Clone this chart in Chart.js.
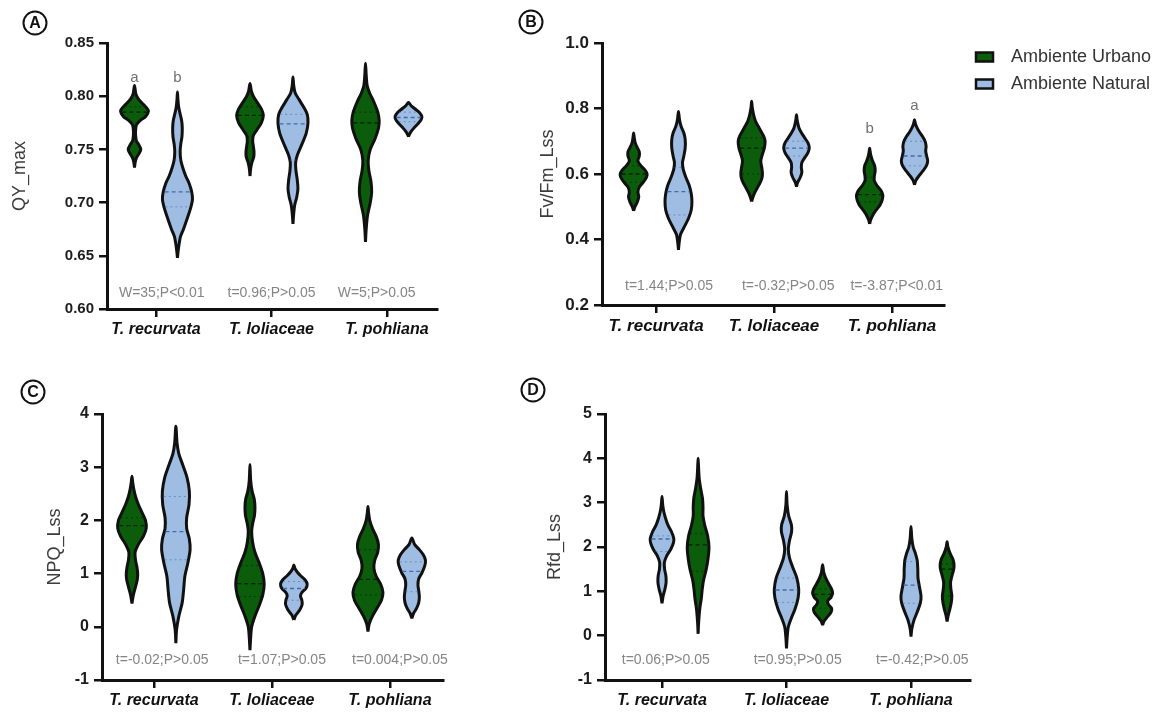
<!DOCTYPE html>
<html>
<head>
<meta charset="utf-8">
<script src="https://cdn.jsdelivr.net/npm/chart.js@4.4.1/dist/chart.umd.min.js"></script>
<style>
  body { margin: 0; background: #fff; width: 1160px; height: 713px; position: relative; overflow: hidden; }
  canvas { position: absolute; }
</style>
</head>
<body>
<canvas id="cA" width="490" height="345" style="left:0;top:0"></canvas>
<canvas id="cB" width="670" height="345" style="left:490px;top:0"></canvas>
<canvas id="cC" width="490" height="368" style="left:0;top:345px"></canvas>
<canvas id="cD" width="670" height="368" style="left:490px;top:345px"></canvas>
<script>
// categories / groups
const species = ['T. recurvata', 'T. loliaceae', 'T. pohliana'];
const groups = ['Ambiente Urbano', 'Ambiente Natural'];

// violin outlines: [value, relative half-width], bottom tip -> top tip
// A) QY_max
const qyUrb = [
  [[0.733,0],[0.738,0.05],[0.742,0.14],[0.746,0.32],[0.750,0.45],[0.754,0.32],[0.758,0.14],[0.763,0.08],[0.768,0.08],[0.773,0.14],[0.777,0.4],[0.781,0.8],[0.786,1],[0.790,0.8],[0.794,0.5],[0.798,0.25],[0.802,0.1],[0.806,0.05],[0.810,0]],
  [[0.725,0],[0.732,0.05],[0.738,0.15],[0.743,0.28],[0.748,0.3],[0.753,0.25],[0.758,0.2],[0.763,0.25],[0.768,0.5],[0.775,0.85],[0.782,1],[0.788,0.85],[0.794,0.55],[0.800,0.25],[0.805,0.1],[0.812,0]],
  [[0.663,0],[0.675,0.05],[0.688,0.15],[0.700,0.35],[0.710,0.45],[0.720,0.4],[0.730,0.25],[0.740,0.2],[0.750,0.35],[0.760,0.7],[0.770,0.95],[0.777,1],[0.785,0.9],[0.795,0.6],[0.803,0.3],[0.810,0.12],[0.820,0.05],[0.831,0]]
];
const qyNat = [
  [[0.648,0],[0.655,0.05],[0.662,0.12],[0.668,0.2],[0.675,0.4],[0.685,0.65],[0.695,0.88],[0.703,1],[0.710,0.95],[0.718,0.78],[0.725,0.55],[0.733,0.35],[0.740,0.22],[0.748,0.18],[0.755,0.22],[0.762,0.3],[0.770,0.32],[0.777,0.28],[0.785,0.15],[0.790,0.08],[0.797,0.03],[0.804,0]],
  [[0.680,0],[0.690,0.05],[0.698,0.12],[0.705,0.25],[0.713,0.33],[0.722,0.28],[0.730,0.2],[0.738,0.18],[0.745,0.3],[0.755,0.6],[0.765,0.88],[0.775,1],[0.783,0.95],[0.790,0.7],[0.797,0.4],[0.803,0.15],[0.810,0.05],[0.818,0]],
  [[0.762,0],[0.766,0.15],[0.770,0.4],[0.774,0.7],[0.778,0.95],[0.781,1],[0.785,0.8],[0.788,0.5],[0.791,0.2],[0.794,0]]
];
const qyUrbPeak = [0.93, 0.89, 0.91];
const qyNatPeak = [1, 1, 0.89];
const qyUrbMed = [0.785, 0.782, 0.775];
const qyNatMed = [0.710, 0.774, 0.780];
const qyUrbQ = [[0.772, 0.790], [0.762, 0.790], [0.735, 0.785]];
const qyNatQ = [[0.696, 0.740], [0.740, 0.783], [0.776, 0.785]];
const qyTicks = [0.60, 0.65, 0.70, 0.75, 0.80, 0.85];
const qyStats = ['W=35;P<0.01', 't=0.96;P>0.05', 'W=5;P>0.05'];
const qyLetters = [['a', 0, 'urb', 0.817], ['b', 0, 'nat', 0.817]];

// B) Fv/Fm_Lss
const fvUrb = [
  [[0.488,0],[0.500,0.1],[0.515,0.28],[0.530,0.38],[0.545,0.32],[0.560,0.42],[0.575,0.72],[0.590,0.95],[0.600,1],[0.612,0.85],[0.625,0.55],[0.640,0.32],[0.655,0.42],[0.668,0.42],[0.680,0.28],[0.695,0.12],[0.710,0.05],[0.725,0]],
  [[0.516,0],[0.530,0.1],[0.545,0.25],[0.560,0.45],[0.575,0.65],[0.590,0.78],[0.605,0.8],[0.620,0.75],[0.640,0.68],[0.660,0.8],[0.680,0.95],[0.700,1],[0.715,0.9],[0.730,0.7],[0.745,0.5],[0.760,0.3],[0.775,0.18],[0.790,0.1],[0.805,0.04],[0.822,0]],
  [[0.448,0],[0.460,0.08],[0.475,0.25],[0.490,0.5],[0.505,0.78],[0.520,0.95],[0.535,1],[0.550,0.85],[0.565,0.55],[0.580,0.35],[0.595,0.36],[0.610,0.42],[0.625,0.38],[0.640,0.22],[0.655,0.1],[0.668,0.04],[0.679,0]]
];
const fvNat = [
  [[0.368,0],[0.390,0.05],[0.415,0.15],[0.440,0.45],[0.465,0.75],[0.490,0.95],[0.515,1],[0.540,0.95],[0.565,0.8],[0.590,0.55],[0.615,0.35],[0.635,0.3],[0.655,0.4],[0.680,0.5],[0.705,0.5],[0.725,0.4],[0.745,0.2],[0.765,0.08],[0.791,0]],
  [[0.562,0],[0.575,0.1],[0.590,0.3],[0.605,0.42],[0.620,0.38],[0.635,0.42],[0.650,0.65],[0.665,0.9],[0.680,1],[0.695,0.9],[0.710,0.65],[0.725,0.4],[0.740,0.2],[0.755,0.1],[0.768,0.04],[0.781,0]],
  [[0.567,0],[0.580,0.1],[0.595,0.35],[0.610,0.65],[0.625,0.9],[0.640,1],[0.655,0.92],[0.670,0.85],[0.685,0.88],[0.700,0.8],[0.715,0.6],[0.730,0.35],[0.745,0.15],[0.755,0.06],[0.766,0]]
];
const fvUrbPeak = [1, 1, 0.98];
const fvNatPeak = [1, 0.95, 0.98];
const fvUrbMed = [0.600, 0.679, 0.537];
const fvNatMed = [0.546, 0.679, 0.655];
const fvUrbQ = [[0.575, 0.625], [0.600, 0.710], [0.515, 0.590]];
const fvNatQ = [[0.475, 0.620], [0.655, 0.700], [0.625, 0.700]];
const fvTicks = [0.2, 0.4, 0.6, 0.8, 1.0];
const fvStats = ['t=1.44;P>0.05', 't=-0.32;P>0.05', 't=-3.87;P<0.01'];
const fvLetters = [['b', 2, 'urb', 0.737], ['a', 2, 'nat', 0.808]];

// C) NPQ_Lss
const npqUrb = [
  [[0.44,0],[0.6,0.1],[0.75,0.25],[0.9,0.38],[1.0,0.4],[1.12,0.35],[1.25,0.25],[1.4,0.22],[1.55,0.45],[1.7,0.8],[1.85,1],[2.0,0.95],[2.15,0.7],[2.3,0.45],[2.45,0.25],[2.6,0.12],[2.72,0.05],[2.83,0]],
  [[-0.44,0],[-0.2,0.05],[0,0.12],[0.2,0.35],[0.4,0.65],[0.6,0.9],[0.8,1],[1.0,0.9],[1.2,0.65],[1.4,0.35],[1.6,0.18],[1.8,0.12],[1.95,0.2],[2.1,0.32],[2.25,0.35],[2.4,0.3],[2.55,0.15],[2.75,0.05],[3.05,0]],
  [[-0.09,0],[0.05,0.08],[0.2,0.3],[0.35,0.6],[0.5,0.9],[0.65,1],[0.8,0.85],[0.95,0.55],[1.1,0.4],[1.25,0.45],[1.4,0.65],[1.55,0.7],[1.7,0.55],[1.85,0.3],[2.0,0.12],[2.15,0.04],[2.26,0]]
];
const npqNat = [
  [[-0.31,0],[-0.05,0.05],[0.2,0.2],[0.45,0.42],[0.7,0.52],[0.95,0.6],[1.2,0.8],[1.45,0.95],[1.65,0.9],[1.85,0.72],[2.05,0.72],[2.3,0.88],[2.55,0.9],[2.8,0.75],[3.05,0.45],[3.25,0.2],[3.45,0.08],[3.77,0]],
  [[0.13,0],[0.22,0.15],[0.32,0.45],[0.42,0.62],[0.5,0.6],[0.58,0.5],[0.65,0.62],[0.72,0.9],[0.8,1],[0.88,0.85],[0.95,0.55],[1.03,0.25],[1.1,0.08],[1.16,0]],
  [[0.16,0],[0.25,0.12],[0.35,0.35],[0.45,0.5],[0.55,0.55],[0.65,0.52],[0.78,0.45],[0.9,0.5],[1.02,0.75],[1.15,0.95],[1.25,1],[1.35,0.85],[1.45,0.55],[1.55,0.2],[1.67,0]]
];
const npqUrbPeak = [0.95, 0.95, 1];
const npqNatPeak = [1, 0.89, 0.91];
const npqUrbMed = [1.9, 0.81, 0.89];
const npqNatMed = [1.79, 0.72, 1.04];
const npqUrbQ = [[1.45, 2.05], [0.57, 1.15], [0.60, 1.45]];
const npqNatQ = [[1.26, 2.45], [0.50, 0.85], [0.66, 1.22]];
const npqTicks = [-1, 0, 1, 2, 3, 4];
const npqStats = ['t=-0.02;P>0.05', 't=1.07;P>0.05', 't=0.004;P>0.05'];

// D) Rfd_Lss
const rfdUrb = [
  [[0.04,0],[0.3,0.05],[0.6,0.15],[0.85,0.3],[1.05,0.38],[1.25,0.5],[1.5,0.75],[1.75,0.92],[2.0,1],[2.25,0.88],[2.5,0.6],[2.7,0.45],[2.9,0.45],[3.1,0.4],[3.3,0.25],[3.55,0.1],[3.8,0.04],[4.0,0]],
  [[0.24,0],[0.33,0.15],[0.43,0.5],[0.53,0.85],[0.62,0.9],[0.70,0.6],[0.78,0.5],[0.87,0.85],[0.96,1],[1.05,0.9],[1.15,0.65],[1.28,0.35],[1.42,0.12],[1.6,0]],
  [[0.32,0],[0.45,0.15],[0.6,0.4],[0.75,0.6],[0.9,0.68],[1.05,0.55],[1.2,0.5],[1.35,0.7],[1.5,0.95],[1.6,1],[1.72,0.85],[1.85,0.45],[2.0,0.12],[2.12,0]]
];
const rfdNat = [
  [[0.73,0],[0.9,0.1],[1.05,0.25],[1.2,0.35],[1.35,0.33],[1.5,0.22],[1.65,0.2],[1.8,0.4],[1.95,0.75],[2.1,0.98],[2.2,1],[2.35,0.8],[2.5,0.5],[2.65,0.3],[2.8,0.15],[2.95,0.06],[3.14,0]],
  [[-0.29,0],[-0.05,0.05],[0.2,0.15],[0.4,0.4],[0.6,0.7],[0.85,0.95],[1.05,1],[1.3,0.85],[1.55,0.5],[1.75,0.25],[1.95,0.15],[2.15,0.25],[2.35,0.42],[2.5,0.4],[2.7,0.18],[2.95,0.05],[3.25,0]],
  [[-0.02,0],[0.15,0.08],[0.35,0.3],[0.55,0.65],[0.75,0.95],[0.9,1],[1.1,0.85],[1.3,0.7],[1.5,0.68],[1.7,0.62],[1.85,0.45],[2.0,0.22],[2.2,0.08],[2.46,0]]
];
const rfdUrbPeak = [0.89, 0.82, 0.57];
const rfdNatPeak = [0.96, 1, 0.82];
const rfdUrbMed = [2.05, 0.93, 1.5];
const rfdNatMed = [2.18, 1.03, 1.14];
const rfdUrbQ = [[1.45, 2.3], [0.62, 1.05], [0.9, 1.62]];
const rfdNatQ = [[1.9, 2.25], [0.75, 1.3], [0.73, 1.67]];
const rfdTicks = [-1, 0, 1, 2, 3, 4, 5];
const rfdStats = ['t=0.06;P>0.05', 't=0.95;P>0.05', 't=-0.42;P>0.05'];

const GREEN = '#0b5d0b';
const BLUE = '#9fbde3';
const INK = '#111111';
const FONT = '"Liberation Sans", Arial, Helvetica, sans-serif';
Chart.defaults.font.family = FONT;

// linear interpolation of the outline width at a value (for the median / quartile dashes)
function widthAt(prof, v) {
  for (let i = 1; i < prof.length; i++) {
    const [v0, w0] = prof[i - 1], [v1, w1] = prof[i];
    if (v >= v0 && v <= v1) return w0 + (w1 - w0) * (v - v0) / (v1 - v0);
  }
  return 0;
}

// closed outline: right side going up, left side coming back down
function outline(c, prof, half) {
  const right = prof.map(([v, w]) => ({x: c + w * half, y: v}));
  const left = prof.slice(0, -1).reverse().map(([v, w]) => ({x: c - w * half, y: v}));
  return right.concat(left);
}

function hline(c, prof, half, v) {
  const w = widthAt(prof, v) * half * 0.9;
  return [{x: c - w, y: v}, {x: c + w, y: v}];
}

function makeNotes(p) {
  return {
    id: 'notes',
    afterDraw(chart) {
      const {ctx, scales: {x, y}} = chart;
      ctx.save();
      ctx.textAlign = 'center';
      ctx.textBaseline = 'middle';
      ctx.fillStyle = '#858585';
      ctx.font = '14px ' + FONT;
      p.stats.forEach((s, i) => ctx.fillText(s, x.getPixelForValue(i + p.statShift[i]), y.getPixelForValue(p.statY)));
      ctx.fillStyle = '#707070';
      ctx.font = '15px ' + FONT;
      (p.letters || []).forEach(([t, i, g, v]) => {
        const sh = g === 'urb' ? p.urbShift : p.natShift;
        ctx.fillText(t, x.getPixelForValue(i + sh), y.getPixelForValue(v));
      });
      // circled panel tag
      ctx.beginPath();
      ctx.arc(p.tag[1], p.tag[2], 11.5, 0, Math.PI * 2);
      ctx.lineWidth = 2;
      ctx.strokeStyle = INK;
      ctx.stroke();
      ctx.fillStyle = INK;
      ctx.font = 'bold 16px ' + FONT;
      ctx.fillText(p.tag[0], p.tag[1], p.tag[2] + 1);
      if (p.legend) {
        const [lx, ly, gap] = p.legend;
        [GREEN, BLUE].forEach((col, i) => {
          const yy = ly + i * gap;
          ctx.fillStyle = col;
          ctx.fillRect(lx, yy - 4.5, 17, 9);
          ctx.lineWidth = 2.5;
          ctx.strokeStyle = INK;
          ctx.strokeRect(lx, yy - 4.5, 17, 9);
          ctx.fillStyle = '#333';
          ctx.font = '18px ' + FONT;
          ctx.textAlign = 'left';
          ctx.fillText(groups[i], lx + 35, yy);
        });
      }
      ctx.restore();
    }
  };
}

function panel(id, p) {
  const datasets = [];
  const sets = [
    [p.urb, p.urbPeak, p.urbMed, p.urbQ, p.urbShift, GREEN, 'rgba(0,20,0,0.85)', 'rgba(0,30,0,0.55)'],
    [p.nat, p.natPeak, p.natMed, p.natQ, p.natShift, BLUE, '#3d6db0', 'rgba(70,110,170,0.6)']
  ];
  sets.forEach(([profs, peaks, meds, qs, shift, fill, dash, dot]) => {
    profs.forEach((prof, i) => {
      const c = i + shift;
      const half = p.half * peaks[i];
      datasets.push({
        data: outline(c, prof, half), fill: 'shape', backgroundColor: fill,
        borderColor: INK, borderWidth: 3, pointRadius: 0, tension: 0.3, order: 2
      });
      datasets.push({
        data: hline(c, prof, half, meds[i]), fill: false, borderColor: dash,
        borderWidth: 1.3, borderDash: [4, 3], pointRadius: 0, order: 0
      });
      qs[i].forEach(q => datasets.push({
        data: hline(c, prof, half, q), fill: false, borderColor: dot,
        borderWidth: 1, borderDash: [2, 3], pointRadius: 0, order: 1
      }));
    });
  });

  const axisGrid = {drawOnChartArea: false, drawTicks: true, tickLength: 8, color: INK, lineWidth: 2.5};
  new Chart(document.getElementById(id), {
    type: 'line',
    data: {datasets},
    options: {
      responsive: false,
      animation: false,
      events: [],
      layout: {padding: {left: 0, top: p.top, right: p.right, bottom: 0}},
      plugins: {legend: {display: false}, tooltip: {enabled: false}},
      scales: {
        x: {
          type: 'linear', min: p.xmin, max: p.xmax,
          afterBuildTicks: s => { s.ticks = species.map((_, i) => ({value: i})); },
          afterFit: s => { s.height = p.xh; },
          ticks: {
            autoSkip: false, maxRotation: 0, padding: 3, color: INK,
            font: {size: p.xFont, weight: 'bold', style: 'italic'},
            callback: (v, i) => species[i]
          },
          grid: axisGrid,
          border: {display: true, width: 3, color: INK}
        },
        y: {
          min: p.ticks[0], max: p.ticks[p.ticks.length - 1],
          afterBuildTicks: s => { s.ticks = p.ticks.map(v => ({value: v})); },
          afterFit: s => { s.width = p.left; },
          ticks: {
            padding: 5, color: '#1c1c1c',
            font: {size: p.yFont, weight: 'bold'},
            callback: v => v.toFixed(p.dec)
          },
          grid: axisGrid,
          border: {display: true, width: 3, color: INK},
          title: {
            display: true, text: p.title, color: '#3c3c3c',
            font: {size: 18}, padding: {top: p.titleX - 10.8, bottom: 0}
          }
        }
      }
    },
    plugins: [makeNotes(p)]
  });
}

panel('cA', {
  urb: qyUrb, nat: qyNat, urbPeak: qyUrbPeak, natPeak: qyNatPeak, urbMed: qyUrbMed, natMed: qyNatMed,
  urbQ: qyUrbQ, natQ: qyNatQ, ticks: qyTicks, dec: 2, title: 'QY_max',
  stats: qyStats, statShift: [0.05, 0, -0.09], statY: 0.615, letters: qyLetters,
  urbShift: -0.186, natShift: 0.186, half: 0.13,
  xmin: -0.424, xmax: 2.433, left: 107, right: 53, top: 43, xh: 36, titleX: 20,
  xFont: 16, yFont: 15, tag: ['A', 35, 23]
});
panel('cB', {
  urb: fvUrb, nat: fvNat, urbPeak: fvUrbPeak, natPeak: fvNatPeak, urbMed: fvUrbMed, natMed: fvNatMed,
  urbQ: fvUrbQ, natQ: fvNatQ, ticks: fvTicks, dec: 1, title: 'Fv/Fm_Lss',
  stats: fvStats, statShift: [0.11, 0.12, 0.04], statY: 0.258, letters: fvLetters,
  urbShift: -0.19, natShift: 0.19, half: 0.114,
  xmin: -0.458, xmax: 2.44, left: 112, right: 216, top: 43, xh: 40, titleX: 58,
  xFont: 17, yFont: 17, tag: ['B', 41, 22], legend: [486, 57, 27]
});
panel('cC', {
  urb: npqUrb, nat: npqNat, urbPeak: npqUrbPeak, natPeak: npqNatPeak, urbMed: npqUrbMed, natMed: npqNatMed,
  urbQ: npqUrbQ, natQ: npqNatQ, ticks: npqTicks, dec: 0, title: 'NPQ_Lss',
  stats: npqStats, statShift: [0.07, 0.085, 0.085], statY: -0.62,
  urbShift: -0.186, natShift: 0.186, half: 0.127,
  xmin: -0.44, xmax: 2.45, left: 102, right: 47, top: 69, xh: 33, titleX: 55,
  xFont: 16, yFont: 16, tag: ['C', 33, 47]
});
panel('cD', {
  urb: rfdUrb, nat: rfdNat, urbPeak: rfdUrbPeak, natPeak: rfdNatPeak, urbMed: rfdUrbMed, natMed: rfdNatMed,
  urbQ: rfdUrbQ, natQ: rfdNatQ, ticks: rfdTicks, dec: 0, title: 'Rfd_Lss',
  stats: rfdStats, statShift: [0.03, 0.09, 0.09], statY: -0.55,
  urbShift: 0.29, natShift: 0, half: 0.098,
  xmin: -0.458, xmax: 2.474, left: 115, right: 190, top: 69, xh: 33, titleX: 65,
  xFont: 16, yFont: 16, tag: ['D', 43, 45]
});
</script>
</body>
</html>
